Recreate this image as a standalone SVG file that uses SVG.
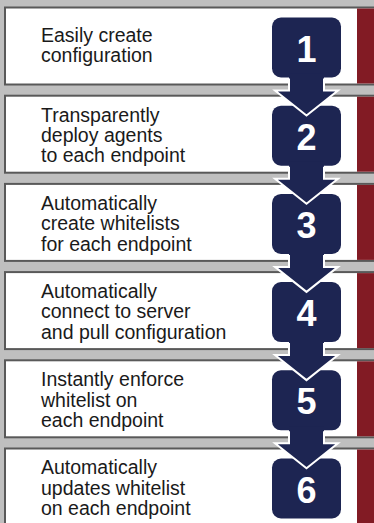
<svg xmlns="http://www.w3.org/2000/svg" width="374" height="523" viewBox="0 0 374 523">
<style>
.box{fill:#ffffff;stroke:#595959;stroke-width:2}
.red{fill:#821b24}
.badge{fill:#1d2552}
.arrow{fill:#1d2552}
.aout{fill:none;stroke:#ffffff;stroke-width:2;stroke-linejoin:miter}
.t{font-family:"Liberation Sans",Arial,sans-serif;font-size:19.5px;fill:#1a1a1a}
.n{font-family:"Liberation Sans",Arial,sans-serif;font-size:36px;font-weight:bold;fill:#ffffff;text-anchor:middle}
</style>
<rect x="0" y="0" width="374" height="523" fill="#bfbfbf"/>
<g id="step1">
<rect class="box" x="5" y="7.5" width="372" height="77"/>
<rect class="red" x="357" y="8.5" width="18" height="75"/>
<text class="t" x="41" y="41.7">Easily create</text>
<text class="t" x="41" y="62.3">configuration</text>
</g>
<g id="step2">
<rect class="box" x="5" y="95.7" width="372" height="77"/>
<rect class="red" x="357" y="96.7" width="18" height="75"/>
<text class="t" x="41" y="121.7">Transparently</text>
<text class="t" x="41" y="142">deploy agents</text>
<text class="t" x="41" y="162.3">to each endpoint</text>
</g>
<g id="step3">
<rect class="box" x="5" y="183.9" width="372" height="77"/>
<rect class="red" x="357" y="184.9" width="18" height="75"/>
<text class="t" x="41" y="209.9">Automatically</text>
<text class="t" x="41" y="230.2">create whitelists</text>
<text class="t" x="41" y="250.5">for each endpoint</text>
</g>
<g id="step4">
<rect class="box" x="5" y="272.1" width="372" height="77"/>
<rect class="red" x="357" y="273.1" width="18" height="75"/>
<text class="t" x="41" y="298.1">Automatically</text>
<text class="t" x="41" y="318.4">connect to server</text>
<text class="t" x="41" y="338.7">and pull configuration</text>
</g>
<g id="step5">
<rect class="box" x="5" y="360.3" width="372" height="77"/>
<rect class="red" x="357" y="361.3" width="18" height="75"/>
<text class="t" x="41" y="386.3">Instantly enforce</text>
<text class="t" x="41" y="406.6">whitelist on</text>
<text class="t" x="41" y="426.9">each endpoint</text>
</g>
<g id="step6">
<rect class="box" x="5" y="448.5" width="372" height="77"/>
<rect class="red" x="357" y="449.5" width="18" height="75"/>
<text class="t" x="41" y="474.2">Automatically</text>
<text class="t" x="41" y="494.5">updates whitelist</text>
<text class="t" x="41" y="514.8">on each endpoint</text>
</g>
<g id="badges">
<g id="badge1"><rect class="badge" x="272" y="17.5" width="69" height="60" rx="9"/><text class="n" x="306.5" y="61.5">1</text></g>
<g id="badge2"><rect class="badge" x="272" y="105.7" width="69" height="60" rx="9"/><text class="n" x="306.5" y="149.7">2</text></g>
<g id="badge3"><rect class="badge" x="272" y="193.9" width="69" height="60" rx="9"/><text class="n" x="306.5" y="237.9">3</text></g>
<g id="badge4"><rect class="badge" x="272" y="282.1" width="69" height="60" rx="9"/><text class="n" x="306.5" y="326.1">4</text></g>
<g id="badge5"><rect class="badge" x="272" y="370.3" width="69" height="60" rx="9"/><text class="n" x="306.5" y="414.3">5</text></g>
<g id="badge6"><rect class="badge" x="272" y="458.5" width="69" height="60" rx="9"/><text class="n" x="306.5" y="502.5">6</text></g>
</g>
<g id="connectors">
<g transform="translate(0,7.5)">
<polygon class="arrow" points="289,66 289,83 275,83 306.5,108 338,83 324,83 324,66"/>
<polyline class="aout" points="289,71 289,83 275,83 306.5,108 338,83 324,83 324,71"/>
</g>
<g transform="translate(0,95.7)">
<polygon class="arrow" points="289,66 289,83 275,83 306.5,108 338,83 324,83 324,66"/>
<polyline class="aout" points="289,71 289,83 275,83 306.5,108 338,83 324,83 324,71"/>
</g>
<g transform="translate(0,183.9)">
<polygon class="arrow" points="289,66 289,83 275,83 306.5,108 338,83 324,83 324,66"/>
<polyline class="aout" points="289,71 289,83 275,83 306.5,108 338,83 324,83 324,71"/>
</g>
<g transform="translate(0,272.1)">
<polygon class="arrow" points="289,66 289,83 275,83 306.5,108 338,83 324,83 324,66"/>
<polyline class="aout" points="289,71 289,83 275,83 306.5,108 338,83 324,83 324,71"/>
</g>
<g transform="translate(0,360.3)">
<polygon class="arrow" points="289,66 289,83 275,83 306.5,108 338,83 324,83 324,66"/>
<polyline class="aout" points="289,71 289,83 275,83 306.5,108 338,83 324,83 324,71"/>
</g>
</g>
</svg>
